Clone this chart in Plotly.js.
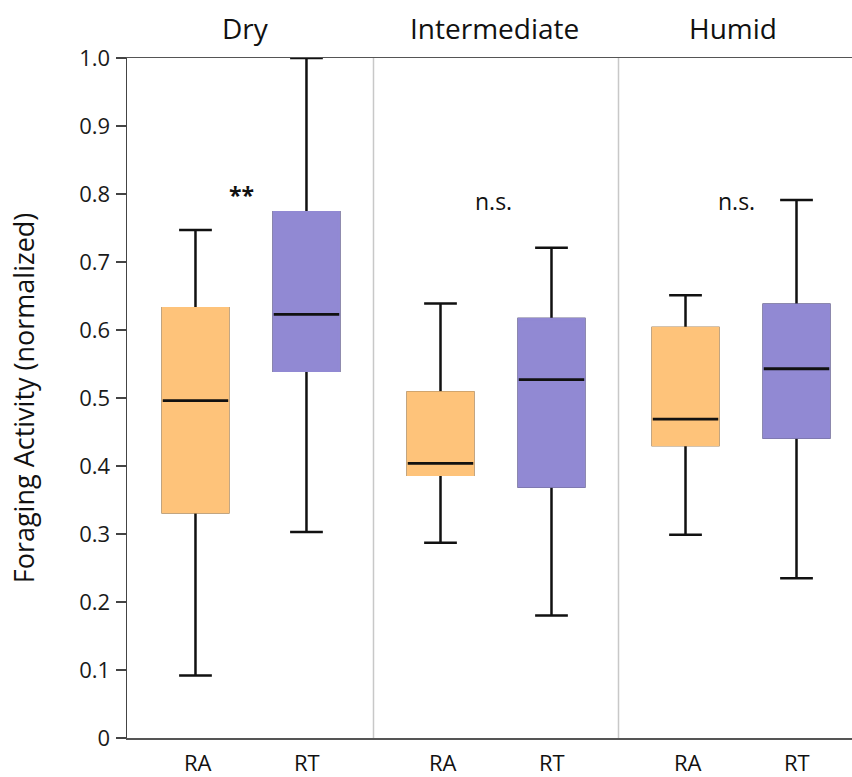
<!DOCTYPE html>
<html><head><meta charset="utf-8">
<script src="https://cdn.plot.ly/plotly-3.0.1.min.js"></script>
<style>html,body{margin:0;padding:0;background:#fff}#chart{width:852px;height:777px}</style>
</head><body><div id="chart"></div>
<script>
// ---- data ----
const groups = ['Dry', 'Intermediate', 'Humid'];
const seriesNames = ['RA', 'RT'];

const raLower  = [0.092, 0.287, 0.299];
const raQ1     = [0.332, 0.387, 0.431];
const raMedian = [0.496, 0.404, 0.469];
const raQ3     = [0.632, 0.508, 0.603];
const raUpper  = [0.747, 0.639, 0.651];

const rtLower  = [0.303, 0.180, 0.235];
const rtQ1     = [0.540, 0.370, 0.442];
const rtMedian = [0.623, 0.527, 0.543];
const rtQ3     = [0.773, 0.616, 0.637];
const rtUpper  = [1.000, 0.721, 0.791];

const sigLabels = ['**', 'n.s.', 'n.s.'];
const sigY      = [0.798, 0.790, 0.790];

const yTickVals = [0, 0.1, 0.2, 0.3, 0.4, 0.5, 0.6, 0.7, 0.8, 0.9, 1.0];
const yTickText = ['0', '0.1', '0.2', '0.3', '0.4', '0.5', '0.6', '0.7', '0.8', '0.9', '1.0'];

// ---- styling (kept apart from data) ----
const colors = { RA: '#FEC37A', RT: '#9189D3' };
const LW = 2.5;
const titleShift = [-5, -1, -8];
const sigShift = [-9, -2, -5];
const labelShift = { RA: -53, RT: 56 };
const FONT = 'Open Sans, sans-serif';

function boxTraces(name, lower, q1, med, q3, upper, color) {
  const common = {
    type: 'box', x: groups, offsetgroup: name, boxpoints: false,
    whiskerwidth: 0.5, showlegend: false, hoverinfo: 'skip'
  };
  return [
    Object.assign({}, common, { name: name + ' whiskers', q1: q1, median: med, q3: q3,
      lowerfence: lower, upperfence: upper, fillcolor: 'rgba(0,0,0,0)', line: { color: '#111', width: LW } }),
    Object.assign({}, common, { name: name, q1: q1, median: med, q3: q3,
      lowerfence: q1, upperfence: q3, fillcolor: color, line: { color: color, width: LW } }),
    Object.assign({}, common, { name: name + ' median', q1: med, median: med, q3: med,
      lowerfence: med, upperfence: med, fillcolor: 'rgba(0,0,0,0)', line: { color: '#111', width: 2.8 } })
  ];
}

const data = [].concat(
  boxTraces('RA', raLower, raQ1, raMedian, raQ3, raUpper, colors.RA),
  boxTraces('RT', rtLower, rtQ1, rtMedian, rtQ3, rtUpper, colors.RT)
);

const annotations = [];
groups.forEach((g, i) => {
  annotations.push({ x: g, xref: 'x', y: 1, yref: 'paper', yanchor: 'middle', yshift: 30,
    xshift: titleShift[i], text: g, showarrow: false, font: { family: FONT, size: 28, color: '#111' } });
  annotations.push({ x: g, xref: 'x', y: sigY[i], yref: 'y', yanchor: 'middle', xshift: sigShift[i],
    text: sigLabels[i], showarrow: false,
    font: { family: FONT, size: 23, color: '#111', weight: sigLabels[i] === '**' ? 'bold' : 'normal' } });
  seriesNames.forEach(s => {
    annotations.push({ x: g, xref: 'x', y: 0, yref: 'paper', yanchor: 'middle', yshift: -24,
      xshift: labelShift[s], text: s, showarrow: false, borderpad: 0,
      font: { family: FONT, size: 22, color: '#111' } });
  });
});

const shapes = [0.5, 1.5].map(v => ({
  type: 'line', xref: 'x', yref: 'paper', x0: v, x1: v, y0: 0, y1: 1,
  line: { color: '#c8c8c8', width: 1.5 }, layer: 'below'
}));

const layout = {
  width: 852, height: 777,
  margin: { l: 127, r: 0, t: 58, b: 39 },
  paper_bgcolor: '#fff', plot_bgcolor: '#fff',
  font: { family: FONT, color: '#111' },
  boxmode: 'group', boxgap: 0.094, boxgroupgap: 0.41,
  showlegend: false,
  xaxis: {
    type: 'category', categoryorder: 'array', categoryarray: groups,
    range: [-0.506, 2.453], showticklabels: false, ticks: '',
    showgrid: false, zeroline: false, showline: true, mirror: true,
    linecolor: '#555', linewidth: 1.5, fixedrange: true
  },
  yaxis: {
    range: [0, 1], tickvals: yTickVals, ticktext: yTickText,
    ticks: 'outside', ticklen: 10, tickwidth: 1.5, tickcolor: '#444',
    showline: true, linecolor: '#444', linewidth: 1.5,
    showgrid: false, zeroline: false, ticklabelstandoff: 1,
    tickfont: { family: FONT, size: 22, color: '#1a1a1a' },
    automargin: true,
    title: { text: 'Foraging Activity (normalized)', standoff: 36,
      font: { family: FONT, size: 27, color: '#111' } },
    fixedrange: true
  },
  shapes: shapes,
  annotations: annotations
};

Plotly.newPlot('chart', data, layout, { displayModeBar: false, staticPlot: true });
</script>
</body></html>
